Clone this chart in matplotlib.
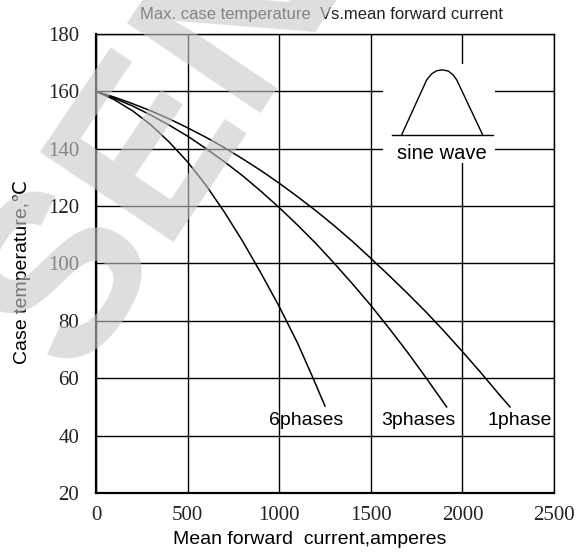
import matplotlib
matplotlib.use("Agg")
import matplotlib.pyplot as plt
from matplotlib.patches import Rectangle

# curves (current in A, case temperature in degC)
amps_6ph = [0, 100, 200, 300, 400, 500, 600, 700, 800, 900, 1000, 1100, 1181, 1250]
temp_6ph = [160, 157.1, 153.2, 148.3, 142.3, 135.4, 127.3, 118.0, 107.8, 96.7, 85.0, 72.3, 60.6, 50.3]

amps_3ph = [0, 100, 200, 300, 400, 500, 600, 700, 800, 900, 1000, 1100, 1200, 1300,
            1400, 1500, 1600, 1700, 1800, 1914]
temp_3ph = [160, 157.6, 154.9, 151.7, 148.2, 144.4, 140.1, 135.5, 130.6, 125.2, 119.5, 113.4,
            107.0, 100.1, 92.9, 85.4, 77.4, 69.1, 60.3, 50.0]

amps_1ph = [0, 100, 200, 300, 400, 500, 600, 700, 800, 900, 1000, 1100, 1200, 1300,
            1400, 1500, 1600, 1700, 1800, 1900, 2000, 2100, 2200, 2260]
temp_1ph = [160, 158.0, 155.7, 153.2, 150.4, 147.3, 144.0, 140.4, 136.5, 132.4, 128.0, 123.3,
            118.4, 113.2, 107.7, 101.8, 95.8, 89.6, 83.2, 76.4, 69.3, 62.0, 54.4, 50.0]

# small sine-wave icon
icon_x = [1668, 1805, 1832, 1860, 1890, 1923, 1950, 1969, 2111]
icon_y = [144.8, 164.0, 166.1, 167.2, 167.5, 167.1, 165.7, 164.0, 144.8]

xticks = [0, 500, 1000, 1500, 2000, 2500]
yticks = [20, 40, 60, 80, 100, 120, 140, 160, 180]

sans = ['Liberation Sans', 'DejaVu Sans']
serif = ['Liberation Serif', 'DejaVu Serif']

fig = plt.figure(figsize=(5.84, 5.55), dpi=100)
ax = fig.add_axes([96/584, 1-493/555, 458/584, 459/555])

ax.set_xlim(0, 2500)
ax.set_ylim(20, 180)
ax.set_xticks(xticks)
ax.set_yticks(yticks)
ax.tick_params(length=0, labelsize=15, colors='#222222')
ax.tick_params(axis='y', pad=12)
ax.tick_params(axis='x', pad=9)
for lab in ax.get_xticklabels() + ax.get_yticklabels():
    lab.set_family(serif)

ax.grid(True, color='black', lw=1.0)
ax.set_axisbelow(True)
for side in ['top', 'right']:
    ax.spines[side].set_linewidth(1.0)
for side in ['left', 'bottom']:
    ax.spines[side].set_linewidth(1.6)

ax.plot(amps_6ph, temp_6ph, color='black', lw=1.1, zorder=3)
ax.plot(amps_3ph, temp_3ph, color='black', lw=1.1, zorder=3)
ax.plot(amps_1ph, temp_1ph, color='black', lw=1.1, zorder=3)

# inset with the waveform
ax.add_patch(Rectangle((1567, 135), 611, 34.5, facecolor='white', edgecolor='none', zorder=2))
ax.plot(icon_x, icon_y, color='black', lw=1.0, zorder=3)
ax.plot([1614, 2165], [144.8, 144.8], color='black', lw=1.0, zorder=3)
ax.text(1890, 138.5, 'sine wave', ha='center', va='center', fontsize=14.5, family=sans, zorder=3)

ax.text(1147, 45.2, '6phases', ha='center', va='center', fontsize=14, family=sans, zorder=3)
ax.text(1758, 45.2, '3phases', ha='center', va='center', fontsize=14, family=sans, zorder=3)
ax.text(2312, 45.2, '1phase', ha='center', va='center', fontsize=14, family=sans, zorder=3)

fig.text(322/584, 1-15/555, 'Max. case temperature  Vs.mean forward current',
         ha='center', va='center', fontsize=12, family=sans, color='#222222')
fig.text(310/584, 1-540/555, 'Mean forward  current,amperes',
         ha='center', va='center', fontsize=14, family=sans)
fig.text(22/584, 1-272/555, 'Case temperature,\u2103', rotation=90,
         ha='center', va='center', fontsize=14, family=sans)

# watermark
fig.text(160/584, 1-145/555, 'SEN', rotation=56, rotation_mode='anchor',
         ha='center', va='center', fontsize=168, fontweight='bold', family=sans,
         color='#c8c8c8', alpha=0.6, zorder=10)

fig.savefig('out.png', dpi=100)
